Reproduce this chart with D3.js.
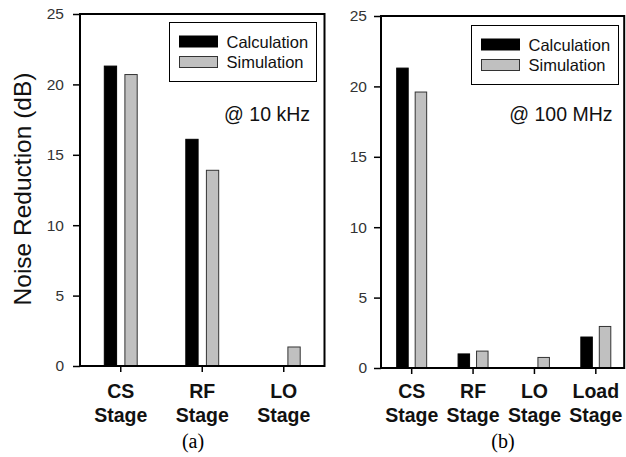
<!DOCTYPE html>
<html>
<head>
<meta charset="utf-8">
<script src="https://cdn.jsdelivr.net/npm/d3@7/dist/d3.min.js"></script>
<style>
  body { margin: 0; background: #fff; }
  svg { display: block; }
  .tick text { font-family: "Liberation Sans", Arial, sans-serif; }
</style>
</head>
<body>
<svg width="626" height="457"></svg>
<script>
// data
var series = ["Calculation", "Simulation"];
var yTicks = [0, 5, 10, 15, 20, 25];

var catsA = ["CS Stage", "RF Stage", "LO Stage"];
var calcA = [21.3, 16.1, 0];
var simA  = [20.7, 13.9, 1.35];

var catsB = ["CS Stage", "RF Stage", "LO Stage", "Load Stage"];
var calcB = [21.3, 1.0, 0, 2.2];
var simB  = [19.6, 1.2, 0.75, 2.95];

var colors = ["#000000", "#c0c0c0"];
var sans = "'Liberation Sans', Arial, sans-serif";

var svg = d3.select("svg");
svg.append("rect").attr("width", 626).attr("height", 457).attr("fill", "#fff");

function panel(p) {
  var g = svg.append("g");

  var x0 = d3.scaleBand().domain(p.cats).range([p.left, p.right]).padding(0);
  var x1 = d3.scaleBand().domain(series).range([0, x0.bandwidth()])
      .paddingInner(p.pin).paddingOuter(p.pout);
  var y = d3.scaleLinear().domain([0, 25]).range([p.bottom, p.top]);

  // bars
  var rows = [];
  p.cats.forEach(function(c, i) {
    rows.push({cat: c, s: series[0], v: p.calc[i]});
    rows.push({cat: c, s: series[1], v: p.sim[i]});
  });

  g.selectAll(".bar")
    .data(rows.filter(function(d) { return d.v > 0; }))
    .enter().append("rect")
      .attr("class", "bar")
      .attr("x", function(d) { return x0(d.cat) + x1(d.s); })
      .attr("width", x1.bandwidth())
      .attr("y", function(d) { return y(d.v); })
      .attr("height", function(d) { return y(0) - y(d.v); })
      .attr("fill", function(d) { return d.s == series[0] ? colors[0] : colors[1]; })
      .attr("stroke", function(d) { return d.s == series[0] ? "#000" : "#333"; })
      .attr("stroke-width", 1);

  // y axis
  var ya = g.append("g")
      .attr("transform", "translate(" + p.left + ",0)")
      .call(d3.axisLeft(y).tickValues(yTicks).tickSize(7).tickPadding(p.tpad));
  ya.select(".domain").remove();
  ya.selectAll("line").attr("stroke", "#000").attr("stroke-width", 1.5);
  ya.selectAll("text").attr("font-size", 15.5).attr("fill", "#333");

  // x axis
  var xa = g.append("g")
      .attr("transform", "translate(0," + p.bottom + ")")
      .call(d3.axisBottom(x0).tickSize(6).tickFormat(""));
  xa.select(".domain").remove();
  xa.selectAll("line").attr("stroke", "#000").attr("stroke-width", 1.5);

  g.selectAll(".xlab")
    .data(p.cats)
    .enter().append("text")
      .attr("class", "xlab")
      .attr("x", function(d) { return x0(d) + x0.bandwidth() / 2; })
      .attr("text-anchor", "middle")
      .attr("font-family", sans)
      .attr("font-weight", "bold")
      .attr("font-size", 19.5)
      .attr("fill", "#111")
      .each(function(d) {
        var parts = d.split(" ");
        var t = d3.select(this);
        t.append("tspan").attr("x", t.attr("x")).attr("y", 398).text(parts[0]);
        t.append("tspan").attr("x", t.attr("x")).attr("y", 422).text(parts[1]);
      });

  // frame
  g.append("rect")
      .attr("x", p.left).attr("y", p.top)
      .attr("width", p.frameRight - p.left).attr("height", p.bottom - p.top)
      .attr("fill", "none").attr("stroke", "#000").attr("stroke-width", 2);

  // legend
  var lg = g.append("g").attr("transform", "translate(" + p.lx + "," + p.ly + ")");
  lg.append("rect")
      .attr("width", 147).attr("height", 59)
      .attr("fill", "#fff").attr("stroke", "#000").attr("stroke-width", 1);
  series.forEach(function(s, i) {
    lg.append("rect")
        .attr("x", 10).attr("y", 13.5 + i * 20.5)
        .attr("width", 38).attr("height", 11)
        .attr("fill", colors[i]).attr("stroke", i ? "#333" : "#000").attr("stroke-width", 1);
    lg.append("text")
        .attr("x", 57).attr("y", 25.5 + i * 20)
        .attr("font-family", sans).attr("font-size", 16.5).attr("fill", "#111")
        .text(s);
  });

  g.append("text")
      .attr("x", p.noteX).attr("y", 121)
      .attr("text-anchor", "end")
      .attr("font-family", sans).attr("font-size", 19.5).attr("fill", "#111")
      .text(p.note);

  g.append("text")
      .attr("x", p.capX).attr("y", 448)
      .attr("text-anchor", "middle")
      .attr("font-family", "'Liberation Serif', 'Times New Roman', serif")
      .attr("font-size", 20).attr("fill", "#000")
      .text(p.cap);
}

panel({cats: catsA, calc: calcA, sim: simA,
       left: 80, right: 324.5, frameRight: 324.5, top: 14, bottom: 366,
       pin: 0.403, pout: 1.18, tpad: 9,
       lx: 169.5, ly: 22.5, note: "@ 10 kHz", noteX: 310, cap: "(a)", capX: 193});

panel({cats: catsB, calc: calcB, sim: simB,
       left: 381, right: 626.5, frameRight: 624.2, top: 16, bottom: 368,
       pin: 0.378, pout: 0.85, tpad: 7,
       lx: 471.5, ly: 25.5, note: "@ 100 MHz", noteX: 612.5, cap: "(b)", capX: 503});

// y axis title (only on left panel)
svg.append("text")
    .attr("transform", "translate(30.5,189) rotate(-90)")
    .attr("text-anchor", "middle")
    .attr("font-family", sans)
    .attr("font-size", 24.5)
    .attr("fill", "#111")
    .text("Noise Reduction (dB)");
</script>
</body>
</html>
